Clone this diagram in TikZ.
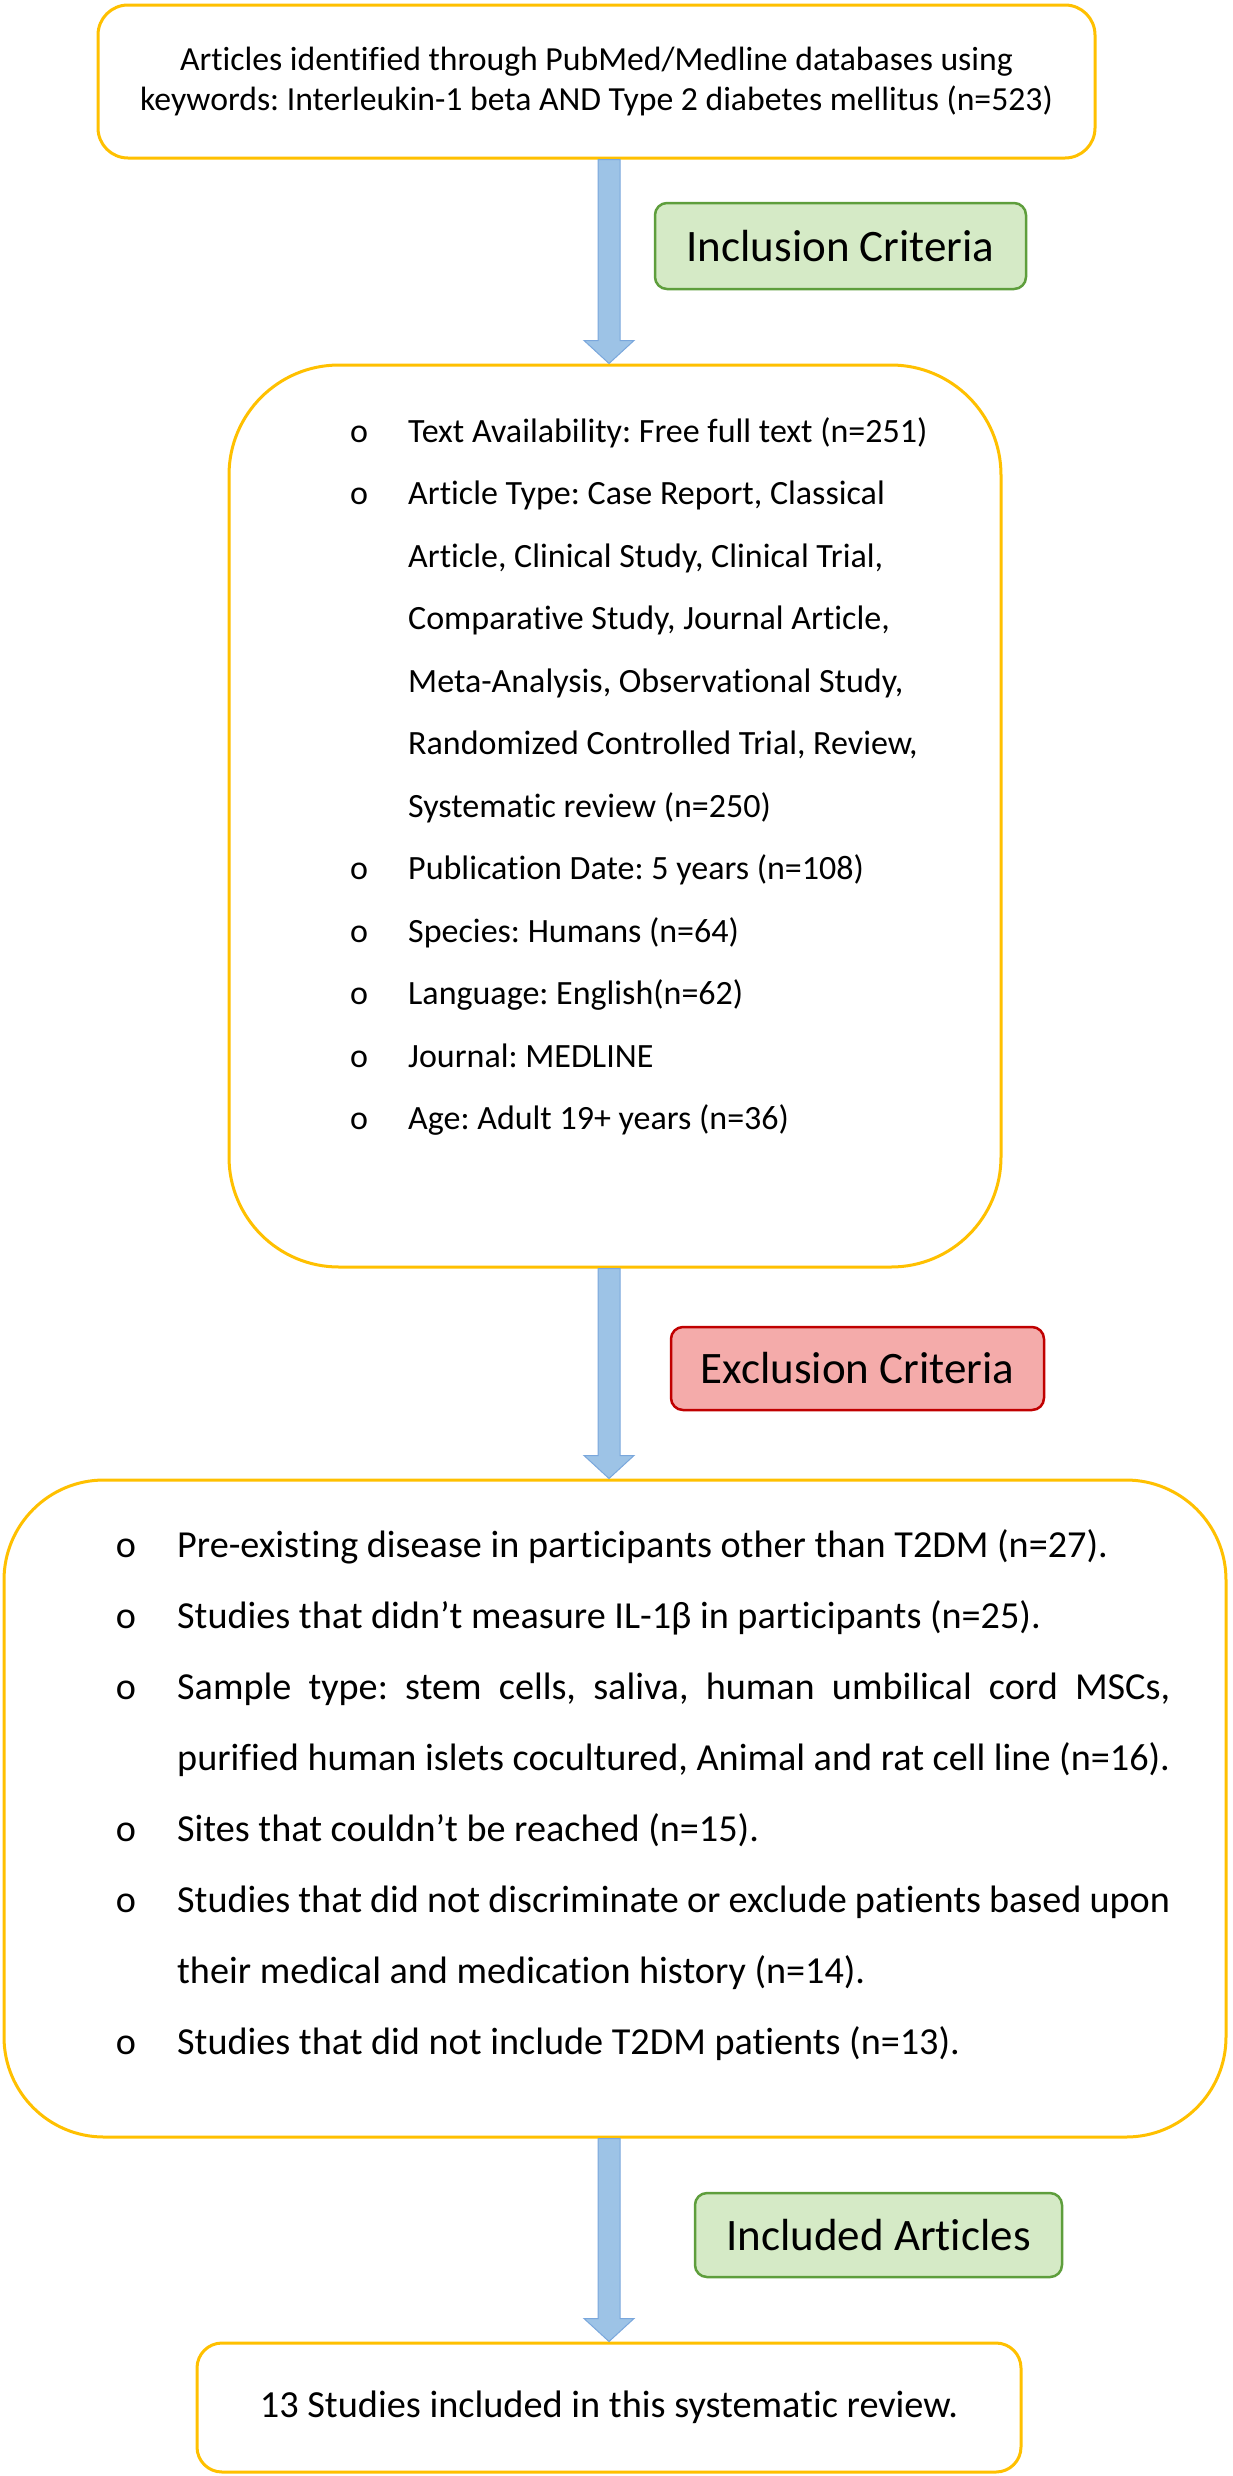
\documentclass[tikz,border=0pt]{standalone}
\usepackage{fontspec}
\setmainfont{Carlito}[Ligatures=NoCommon]
\usetikzlibrary{calc}
\frenchspacing
\definecolor{boxgold}{HTML}{FFC000}
\definecolor{arrowfill}{HTML}{9DC3E6}
\definecolor{arrowline}{HTML}{7AA7DC}
\definecolor{greenfill}{HTML}{D5EAC6}
\definecolor{greenline}{HTML}{5E9E3C}
\definecolor{redfill}{HTML}{F4ABAA}
\definecolor{redline}{HTML}{C00000}
\newcommand\flowarrow[2]{%
  \draw[arrowstyle] let \p1=(#1), \p2=(#2) in
  (\x1-11pt,\y1) -- (\x1-11pt,\y2+23pt) -- (\x1-25pt,\y2+23pt) -- (\x1,\y2)
  -- (\x1+25pt,\y2+23pt) -- (\x1+11pt,\y2+23pt) -- (\x1+11pt,\y1) -- cycle;}
\begin{document}
\frenchspacing
\begin{tikzpicture}[x=1pt,y=-1pt,
  mainbox/.style={draw=boxgold, line width=3pt, fill=white, inner sep=0pt},
  arrowstyle/.style={fill=arrowfill, draw=arrowline, line width=1pt},
  lblgreen/.style={draw=greenline, fill=greenfill, line width=2.5pt, rounded corners=12pt,
     font=\fontsize{45pt}{54pt}\selectfont, inner sep=0pt},
  lblred/.style={draw=redline, fill=redfill, line width=2.5pt, rounded corners=12pt,
     font=\fontsize{45pt}{54pt}\selectfont, inner sep=0pt},
  inc/.style={font=\fontsize{34pt}{40pt}\selectfont, inner sep=0pt},
  exc/.style={font=\fontsize{38.2pt}{46pt}\selectfont, inner sep=0pt}]
\useasboundingbox (0,0) rectangle (1233,2476);
\coordinate (axis) at (609,0);

% boxes
\node[mainbox, rounded corners=30pt, minimum width=997pt, minimum height=153pt,
  align=center, font=\fontsize{33.7pt}{40pt}\selectfont] (top) at (596.5,81.5)
  {Articles identified through PubMed/Medline databases using\\
   keywords: Interleukin-1 beta AND Type 2 diabetes mellitus (n=523)};
\node[mainbox, rounded corners=110pt, minimum width=772pt, minimum height=902pt] (incbox) at (615,816) {};
\node[mainbox, rounded corners=100pt, minimum width=1222pt, minimum height=657pt] (excbox) at (615,1808.5) {};
\node[mainbox, rounded corners=25pt, minimum width=824pt, minimum height=129pt,
  font=\fontsize{38.3pt}{46pt}\selectfont] (final) at (609,2407.5)
  {13 Studies included in this systematic review.};

% labels
\node[lblgreen, minimum width=371pt, minimum height=86pt] (inclbl) at (840.5,246) {Inclusion Criteria};
\node[lblred, minimum width=373pt, minimum height=83pt] (exclbl) at (857.5,1368.5) {Exclusion Criteria};
\node[lblgreen, minimum width=367pt, minimum height=84pt] (finlbl) at (878.5,2235) {Included Articles};

% arrows
\flowarrow{top.south -| axis}{incbox.north -| axis}
\flowarrow{incbox.south -| axis}{excbox.north -| axis}
\flowarrow{excbox.south -| axis}{final.north -| axis}

% inclusion criteria text
\node[inc, anchor=mid] (ib1) at (359,440) {o};
\node[inc, anchor=mid west] (it1) at (408,440) {Text Availability: Free full text (n=251)};
\node[inc, anchor=mid] (ib2) at (359,502.5) {o};
\node[inc, anchor=mid west] (it2) at (408,502.5) {Article Type: Case Report, Classical};
\node[inc, anchor=mid west] (it3) at (408,565) {Article, Clinical Study, Clinical Trial,};
\node[inc, anchor=mid west] (it4) at (408,627.5) {Comparative Study, Journal Article,};
\node[inc, anchor=mid west] (it5) at (408,690) {Meta-Analysis, Observational Study,};
\node[inc, anchor=mid west] (it6) at (408,752.5) {Randomized Controlled Trial, Review,};
\node[inc, anchor=mid west] (it7) at (408,815) {Systematic review (n=250)};
\node[inc, anchor=mid] (ib8) at (359,877.5) {o};
\node[inc, anchor=mid west] (it8) at (408,877.5) {Publication Date: 5 years (n=108)};
\node[inc, anchor=mid] (ib9) at (359,940) {o};
\node[inc, anchor=mid west] (it9) at (408,940) {Species: Humans (n=64)};
\node[inc, anchor=mid] (ib10) at (359,1002.5) {o};
\node[inc, anchor=mid west] (it10) at (408,1002.5) {Language: English(n=62)};
\node[inc, anchor=mid] (ib11) at (359,1065) {o};
\node[inc, anchor=mid west] (it11) at (408,1065) {Journal: MEDLINE};
\node[inc, anchor=mid] (ib12) at (359,1127.5) {o};
\node[inc, anchor=mid west] (it12) at (408,1127.5) {Age: Adult 19+ years (n=36)};

% exclusion criteria text
\node[exc, anchor=mid] (eb1) at (126,1555) {o};
\node[exc, anchor=mid west] (et1) at (177,1555) {Pre-existing disease in participants other than T2DM (n=27).};
\node[exc, anchor=mid] (eb2) at (126,1626) {o};
\node[exc, anchor=mid west] (et2) at (177,1626) {Studies that didn’t measure IL-1β in participants (n=25).};
\node[exc, anchor=mid] (eb3) at (126,1697) {o};
\node[exc, anchor=mid west] (et3) at (177,1697) {\makebox[993pt][s]{Sample type: stem cells, saliva, human umbilical cord MSCs,}};
\node[exc, anchor=mid west] (et4) at (177,1768) {purified human islets cocultured, Animal and rat cell line (n=16).};
\node[exc, anchor=mid] (eb5) at (126,1839) {o};
\node[exc, anchor=mid west] (et5) at (177,1839) {Sites that couldn’t be reached (n=15).};
\node[exc, anchor=mid] (eb6) at (126,1910) {o};
\node[exc, anchor=mid west] (et6) at (177,1910) {\makebox[993pt][s]{Studies that did not discriminate or exclude patients based upon}};
\node[exc, anchor=mid west] (et7) at (177,1981) {their medical and medication history (n=14).};
\node[exc, anchor=mid] (eb8) at (126,2052) {o};
\node[exc, anchor=mid west] (et8) at (177,2052) {Studies that did not include T2DM patients (n=13).};
\end{tikzpicture}
\end{document}
